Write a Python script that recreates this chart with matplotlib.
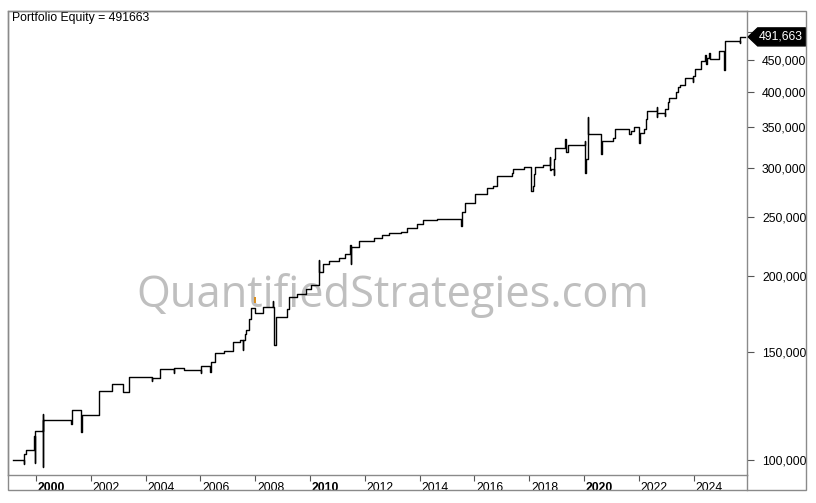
import matplotlib
matplotlib.use("Agg")
import matplotlib.pyplot as plt
import matplotlib.transforms as mtransforms
from matplotlib.patches import Rectangle, Polygon
from matplotlib.lines import Line2D
from matplotlib.ticker import FixedLocator, FuncFormatter, NullLocator

plt.rcParams['font.family'] = ['Liberation Sans', 'DejaVu Sans']

# ---- data (decimal year, equity) ----
years = [
    1999.16, 1999.57, 1999.58, 1999.64, 1999.92, 1999.97, 1999.98, 2000.24, 2000.25, 2000.27,
    2001.29, 2001.30, 2001.65, 2001.66, 2001.68, 2002.31, 2002.78, 2003.19, 2003.41, 2004.24,
    2004.25, 2004.51, 2005.03, 2005.04, 2005.40, 2006.01, 2006.03, 2006.36, 2006.37, 2006.52,
    2006.86, 2007.18, 2007.45, 2007.54, 2007.56, 2007.62, 2007.66, 2007.78, 2007.86, 2008.00,
    2008.30, 2008.64, 2008.66, 2008.70, 2008.76, 2009.15, 2009.22, 2009.54, 2009.85, 2010.03,
    2010.32, 2010.33, 2010.34, 2010.46, 2010.70, 2011.05, 2011.29, 2011.46, 2011.48, 2011.51,
    2011.78, 2012.34, 2012.63, 2012.87, 2013.33, 2013.53, 2013.92, 2014.14, 2014.65, 2015.52,
    2015.55, 2015.65, 2016.01, 2016.45, 2016.69, 2016.81, 2016.84, 2017.36, 2017.42, 2017.81,
    2018.05, 2018.13, 2018.18, 2018.22, 2018.51, 2018.76, 2018.77, 2018.80, 2018.91, 2018.92,
    2018.95, 2019.32, 2019.34, 2019.42, 2020.03, 2020.05, 2020.07, 2020.15, 2020.16, 2020.63,
    2020.66, 2021.05, 2021.12, 2021.63, 2021.72, 2021.82, 2022.02, 2022.04, 2022.19, 2022.26,
    2022.31, 2022.65, 2022.66, 2022.68, 2022.95, 2022.96, 2023.07, 2023.09, 2023.36, 2023.43,
    2023.50, 2023.70, 2023.97, 2023.98, 2024.04, 2024.28, 2024.43, 2024.45, 2024.48, 2024.58,
    2024.60, 2024.92, 2025.11, 2025.13, 2025.16, 2025.69, 2025.71, 2025.88,
]
equity = [
    99900, 98620, 102170, 103720, 109330, 98990, 111530, 118900, 97510, 116120,
    114640, 120570, 118320, 111240, 118320, 129510, 133110, 129020, 136520, 134480,
    136000, 140690, 138580, 141220, 140320, 138580, 142450, 139420, 144440, 149420,
    150890, 155740, 157080, 151290, 157080, 160670, 163110, 170200, 176990, 173700,
    177660, 181920, 177660, 154160, 171110, 176330, 184890, 186780, 190120, 192990,
    212270, 200630, 202670, 209100, 211710, 213630, 216880, 224610, 209100, 223180,
    228020, 230350, 233220, 234720, 235610, 239170, 242800, 246770, 247420, 241260,
    254600, 263080, 272130, 278040, 280450, 287630, 290870, 294180, 298980, 300890,
    274920, 280450, 293090, 300890, 303520, 312450, 297870, 298980, 292300, 310090,
    323200, 334340, 319100, 327260, 332210, 294850, 310000, 364030, 340700, 315980,
    332210, 335600, 347940, 341100, 344570, 349790, 329360, 341990, 347560, 360510,
    371940, 378010, 363190, 369570, 364980, 374330, 384300, 390120, 399980, 407560,
    410180, 420650, 414350, 424320, 435150, 449450, 459200, 443420, 453540, 462150,
    451820, 466700, 433980, 473770, 484590, 479870, 490830, 491663,
]
final_equity = 491663
marker_year = [2007.98]
marker_value = [182600]

xtick_years = list(range(2000, 2025, 2))
bold_years = [2000, 2010, 2020]
ytick_values = [100000, 150000, 200000, 250000, 300000, 350000, 400000, 450000, 500000]

# ---- figure ----
W, H = 816, 503
fig = plt.figure(figsize=(W / 100, H / 100), dpi=100)
fig.patch.set_facecolor('white')
L, R, T, B = 8, 746.7, 11, 475
ax = fig.add_axes([L / W, 1 - B / H, (R - L) / W, (B - T) / H])

frame_c = '#8a8a8a'
ax.plot(years, equity, drawstyle='steps-post', color='black', lw=1.0, zorder=3)
ax.plot(marker_year, marker_value, marker='|', ms=5, mew=1.4, color='#d98c1a', ls='none', zorder=4)

ax.set_yscale('log')
ax.set_xlim(1998.978, 2025.938)
ax.set_ylim(94500, 542000)

ax.yaxis.set_major_locator(FixedLocator(ytick_values))
ax.yaxis.set_minor_locator(NullLocator())
ax.yaxis.set_major_formatter(FuncFormatter(lambda v, p: f"{int(round(v)):,}"))
ax.yaxis.tick_right()
ax.tick_params(axis='y', which='major', length=5, width=0.8, color='#555555',
               labelsize=8.8, pad=6, labelcolor='black')

ax.xaxis.set_major_locator(FixedLocator(xtick_years))
ax.xaxis.set_minor_locator(NullLocator())
ax.set_xticklabels([str(y) for y in xtick_years])
ax.tick_params(axis='x', which='major', length=4, width=0.8, color='#555555',
               labelsize=8.8, pad=1, labelcolor='black', direction='out')
offset = mtransforms.ScaledTranslation(2 / 100, 0, fig.dpi_scale_trans)
for lab, yr in zip(ax.get_xticklabels(), xtick_years):
    lab.set_horizontalalignment('left')
    lab.set_transform(lab.get_transform() + offset)
    if yr in bold_years:
        lab.set_fontweight('bold')

for s in ax.spines.values():
    s.set_color(frame_c)
    s.set_linewidth(1.0)

# outer frame and extensions
fig.add_artist(Rectangle((L / W, 1 - 490 / H), (806 - L) / W, (490 - T) / H,
                         transform=fig.transFigure, fill=False, ec=frame_c, lw=1.0))
fig.add_artist(Line2D([R / W, R / W], [1 - 490 / H, 1 - B / H], transform=fig.transFigure,
                      color=frame_c, lw=1.0))

# title
ax.text(0.0054, 0.997, f"Portfolio Equity = {final_equity}", transform=ax.transAxes,
        ha='left', va='top', fontsize=8.8, color='black')

# watermark
ax.text(0.521, 0.362, "QuantifiedStrategies.com", transform=ax.transAxes, ha='center',
        va='baseline', fontsize=31.3, color='#bfbfbf', family=['Open Sans', 'DejaVu Sans'], zorder=0)

# last-value tag
anchor = mtransforms.ScaledTranslation(1.0, final_equity, ax.get_yaxis_transform())
tag_tr = fig.dpi_scale_trans + anchor
pts = [(1.5, 0), (11, 9), (59, 9), (59, -9), (11, -9)]
poly = Polygon([(x / 100, y / 100) for x, y in pts], closed=True, fc='black', ec='black',
               transform=tag_tr, clip_on=False, zorder=10)
ax.add_artist(poly)
ax.text(34.5 / 100, 0, f"{final_equity:,}", transform=tag_tr, ha='center', va='center',
        color='white', fontsize=8.8, zorder=11, clip_on=False)

fig.savefig('out.png', dpi=100)
